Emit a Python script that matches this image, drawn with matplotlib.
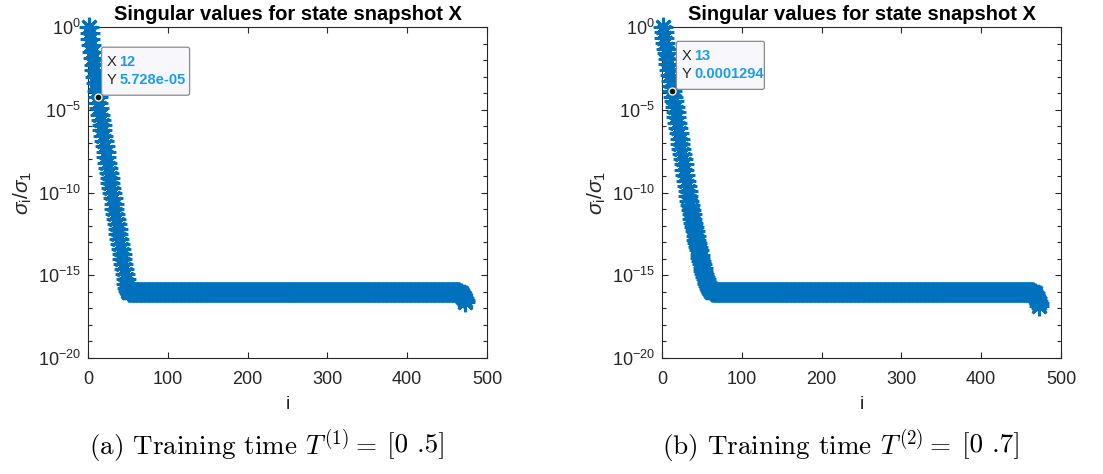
import numpy as np
import matplotlib
matplotlib.use("Agg")
import matplotlib.pyplot as plt
from matplotlib import transforms
from matplotlib.patches import FancyBboxPatch
from matplotlib.ticker import FixedLocator, NullFormatter, FuncFormatter

plt.rcParams.update({
    "font.family": "Liberation Sans",
    "mathtext.fontset": "custom",
    "mathtext.rm": "Liberation Sans",
    "mathtext.it": "Liberation Sans:italic",
    "mathtext.bf": "Liberation Sans:bold",
})

# log10(sigma_i / sigma_1) over the decaying part of each spectrum
decay_a = [0.0, -0.35, -0.75, -1.1, -1.5, -1.85, -2.3, -2.6, -3.0, -3.4,
           -3.85, -4.242, -4.6, -4.9, -5.3, -5.6, -5.95, -6.25, -6.6, -6.9,
           -7.2, -7.55, -7.85, -8.2, -8.5, -8.8, -9.1, -9.4, -9.75, -10.05,
           -10.35, -10.7, -11.0, -11.3, -11.6, -11.9, -12.2, -12.5, -12.8, -13.1,
           -13.4, -13.7, -14.0, -14.3, -14.6, -14.9, -15.2, -15.5, -15.75, -15.95]
decay_b = [0.0, -0.3, -0.65, -0.95, -1.3, -1.6, -1.95, -2.25, -2.6, -2.9,
           -3.25, -3.55, -3.888, -4.2, -4.5, -4.85, -5.15, -5.45, -5.8, -6.1,
           -6.4, -6.75, -7.05, -7.35, -7.7, -8.0, -8.3, -8.65, -8.95, -9.3,
           -9.6, -9.9, -10.2, -10.5, -10.75, -11.05, -11.3, -11.6, -11.85, -12.1,
           -12.35, -12.6, -12.85, -13.05, -13.3, -13.5, -13.75, -13.95, -14.15, -14.35,
           -14.55, -14.75, -14.9, -15.1, -15.25, -15.4, -15.55, -15.65, -15.75, -15.85,
           -15.9, -15.95, -16.0]
# round-off plateau and the last few modes
floor_level = -16.0
tail_a = [-16.05, -16.1, -16.15, -16.2, -16.3, -16.4, -16.5, -16.6]
tail_b = [-16.05, -16.1, -16.2, -16.3, -16.4, -16.55, -16.7, -16.85]
n_modes = 473

# data tips
tip_a = (12, 5.728e-05, "12", "5.728e-05")
tip_b = (13, 0.0001294, "13", "0.0001294")

captions = [(r"(a) Training time $T^{(1)} =$", "[0 .5]"),
            (r"(b) Training time $T^{(2)} =$", "[0 .7]")]
title = "Singular values for state snapshot X"
xticks = [0, 100, 200, 300, 400, 500]
yexp = [0, -5, -10, -15, -20]

blue = "#0072BD"
axc = "#262626"


def spectrum(decay, tail):
    n_flat = n_modes - len(decay) - len(tail)
    logs = np.concatenate([decay, [floor_level] * n_flat, tail])
    return np.arange(1, n_modes + 1), 10.0 ** logs


W, H = 1103, 474
fig = plt.figure(figsize=(W / 100, H / 100), dpi=100)

ax_px = [(88, 487), (662, 1061)]
top_px, bot_px = 27, 358

panels = [(decay_a, tail_a, tip_a), (decay_b, tail_b, tip_b)]
for k, (decay, tail, tip) in enumerate(panels):
    x0, x1 = ax_px[k]
    ax = fig.add_axes([x0 / W, 1 - bot_px / H, (x1 - x0) / W, (bot_px - top_px) / H])
    i, s = spectrum(decay, tail)
    ax.semilogy(i, s, linestyle="none", marker=(8, 2, 0), markersize=14,
                markeredgewidth=2.0, color=blue, clip_on=False, zorder=3)
    ax.set_xlim(0, 500)
    ax.set_ylim(1e-20, 1)
    ax.xaxis.set_major_locator(FixedLocator(xticks))
    ax.yaxis.set_major_locator(FixedLocator([10.0 ** e for e in yexp]))
    ax.yaxis.set_minor_locator(FixedLocator([10.0 ** e for e in range(-20, 1)]))
    ax.yaxis.set_minor_formatter(NullFormatter())
    ax.yaxis.set_major_formatter(FuncFormatter(
        lambda v, p: r"$10^{%d}$" % int(round(np.log10(v)))))
    ax.tick_params(which="both", direction="in", top=True, right=True,
                   colors=axc, labelsize=13, width=0.8)
    ax.tick_params(axis="x", pad=9)
    ax.tick_params(axis="y", pad=5)
    ax.tick_params(which="major", length=4)
    ax.tick_params(which="minor", length=3)
    for sp in ax.spines.values():
        sp.set_color(axc)
        sp.set_linewidth(0.8)
    ax.set_title(title, fontsize=14.5, fontweight="bold", pad=5)
    ax.set_xlabel("i", fontsize=14, color=axc, labelpad=6)
    ax.set_ylabel(r"$\sigma_{\rm i}/\sigma_1$", fontsize=15, color=axc, labelpad=3)

    # data tip
    fig.canvas.draw()
    base = ax.transData.transform((tip[0], tip[1]))
    tr = transforms.Affine2D().translate(*base)
    box = FancyBboxPatch((4, 2), 88, 48, boxstyle="round,pad=0,rounding_size=2",
                         transform=tr, facecolor="#F8F8FC", edgecolor="#8a8a8a",
                         linewidth=0.9, zorder=5, clip_on=False)
    fig.add_artist(box)
    fig.text(0, 0, "X", transform=tr + transforms.Affine2D().translate(9, 35),
             fontsize=10.5, color=axc, va="center", zorder=6)
    fig.text(0, 0, "Y", transform=tr + transforms.Affine2D().translate(9, 17),
             fontsize=10.5, color=axc, va="center", zorder=6)
    fig.text(0, 0, tip[2], transform=tr + transforms.Affine2D().translate(22, 35),
             fontsize=10.5, color="#1A9BF5", fontweight="bold", va="center", zorder=6)
    fig.text(0, 0, tip[3], transform=tr + transforms.Affine2D().translate(22, 17),
             fontsize=10.5, color="#1A9BF5", fontweight="bold", va="center", zorder=6)
    ax.plot([tip[0]], [tip[1]], "o", markersize=5, markerfacecolor="#111111",
            markeredgecolor="#f4f4d8", markeredgewidth=1.0, zorder=7, clip_on=False)

    # sub-caption, laid out as two runs so the interval keeps its spacing
    cx = (x0 + x1) / 2 - 20
    lead, interval = captions[k]
    t1 = fig.text(0, 1 - 446 / H, lead, fontsize=19.5, family="cmr10",
                  math_fontfamily="cm", ha="left", va="center")
    t2 = fig.text(0, 1 - 446 / H, interval, fontsize=19.5, family="cmr10",
                  ha="left", va="center")
    r = fig.canvas.get_renderer()
    w1 = t1.get_window_extent(r).width
    w2 = t2.get_window_extent(r).width
    gap = 10
    start = cx - (w1 + gap + w2) / 2
    t1.set_x(start / W)
    t2.set_x((start + w1 + gap) / W)

fig.savefig("out.png", dpi=100)
